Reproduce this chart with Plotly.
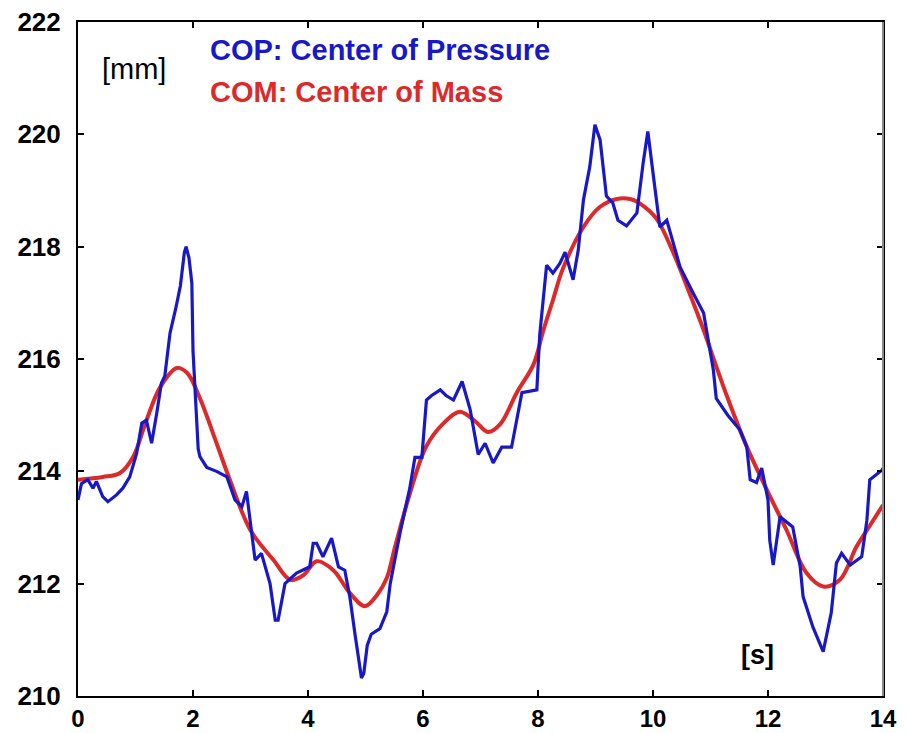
import plotly.graph_objects as go

# Center of Pressure (COP) trace: time [s] and position [mm]
cop_t = [0.0, 0.06, 0.17, 0.26, 0.32, 0.43, 0.52, 0.67, 0.78, 0.9, 1.02, 1.11, 1.19, 1.28,
         1.37, 1.45, 1.51, 1.6, 1.7, 1.78, 1.85, 1.88, 1.93, 1.98, 2.0, 2.06, 2.09, 2.12,
         2.24, 2.41, 2.59, 2.73, 2.85, 2.93, 3.02, 3.08, 3.19, 3.34, 3.43, 3.48, 3.6, 3.8,
         4.03, 4.09, 4.15, 4.26, 4.41, 4.53, 4.64, 4.73, 4.82, 4.93, 4.97, 5.03, 5.1, 5.25,
         5.37, 5.43, 5.6, 5.77, 5.86, 5.98, 6.06, 6.15, 6.3, 6.4, 6.53, 6.68, 6.82, 6.96,
         7.08, 7.22, 7.37, 7.54, 7.72, 7.98, 8.03, 8.09, 8.15, 8.26, 8.38, 8.47, 8.61, 8.7,
         8.79, 8.9, 8.99, 9.08, 9.19, 9.3, 9.39, 9.54, 9.72, 9.83, 9.91, 10.03, 10.12, 10.24,
         10.47, 10.7, 10.88, 11.05, 11.1, 11.3, 11.51, 11.63, 11.69, 11.8, 11.89, 12.0,
         12.03, 12.09, 12.21, 12.43, 12.56, 12.61, 12.78, 12.96, 13.1, 13.19, 13.28, 13.43,
         13.63, 13.72, 13.77, 13.98, 14.0]
cop_mm = [213.49, 213.78, 213.85, 213.7, 213.82, 213.55, 213.46, 213.58, 213.7, 213.9,
          214.32, 214.86, 214.91, 214.5, 215.04, 215.57, 215.7, 216.46, 216.9, 217.3,
          217.9, 218.0, 217.8, 217.35, 216.15, 215.0, 214.4, 214.26, 214.07, 214.0, 213.9,
          213.49, 213.37, 213.64, 212.96, 212.42, 212.54, 212.0, 211.35, 211.35, 212.0,
          212.19, 212.3, 212.72, 212.72, 212.48, 212.81, 212.3, 212.24, 211.75, 211.08,
          210.32, 210.4, 210.9, 211.1, 211.2, 211.5, 212.0, 212.9, 213.7, 214.25, 214.25,
          215.27, 215.35, 215.45, 215.35, 215.27, 215.6, 215.1, 214.3, 214.5, 214.15,
          214.43, 214.43, 215.4, 215.45, 216.43, 217.05, 217.67, 217.53, 217.7, 217.9,
          217.41, 217.94, 218.83, 219.42, 220.17, 219.9, 218.9, 218.78, 218.47, 218.37,
          218.6, 219.5, 220.05, 219.07, 218.35, 218.47, 217.64, 217.17, 216.82, 215.8,
          215.3, 215.0, 214.74, 214.44, 213.85, 213.8, 214.06, 213.49, 212.78, 212.33,
          213.19, 213.01, 212.3, 211.77, 211.23, 210.79, 211.48, 212.37, 212.54, 212.33,
          212.48, 213.13, 213.85, 214.02, 214.05]

# Center of Mass (COM) trace: time [s] and position [mm]
com_t = [0.0, 0.43, 0.73, 0.96, 1.19, 1.43, 1.72, 1.9, 2.12, 2.41, 2.64, 3.0, 3.4, 3.69,
         3.92, 4.15, 4.44, 4.73, 4.99, 5.2, 5.37, 5.5, 5.77, 6.06, 6.35, 6.64, 6.9, 7.13,
         7.35, 7.63, 7.92, 8.09, 8.26, 8.43, 8.79, 9.08, 9.37, 9.6, 9.8, 10.06, 10.35,
         10.59, 10.85, 11.1, 11.3, 11.63, 11.98, 12.32, 12.67, 12.96, 13.25, 13.54, 13.75,
         14.0]
com_mm = [213.85, 213.9, 213.97, 214.26, 214.91, 215.5, 215.84, 215.75, 215.3, 214.5,
          213.85, 212.95, 212.42, 212.07, 212.15, 212.4, 212.24, 211.83, 211.6, 211.8,
          212.1, 212.6, 213.6, 214.45, 214.85, 215.06, 214.9, 214.7, 214.85, 215.4, 215.9,
          216.5, 217.05, 217.6, 218.35, 218.71, 218.85, 218.85, 218.75, 218.5, 217.9,
          217.29, 216.6, 215.87, 215.3, 214.44, 213.67, 212.96, 212.19, 211.95, 212.07,
          212.66, 213.0, 213.4]

x_ticks = [0, 2, 4, 6, 8, 10, 12, 14]
y_ticks = [210, 212, 214, 216, 218, 220, 222]

BLUE = "#1818c8"
RED = "#dc2a2a"
FONT = "Liberation Sans, Arial, Helvetica, sans-serif"

fig = go.Figure()
fig.add_trace(go.Scatter(x=com_t, y=com_mm, mode="lines",
                         line=dict(color=RED, width=4, shape="spline", smoothing=1.0),
                         name="COM"))
fig.add_trace(go.Scatter(x=cop_t, y=cop_mm, mode="lines",
                         line=dict(color=BLUE, width=3.2),
                         name="COP"))

axis_common = dict(
    showgrid=False, zeroline=False, automargin=False,
    showline=True, linecolor="black", linewidth=2, mirror="ticks",
    ticks="inside", ticklen=6, tickwidth=1.5, tickcolor="black",
)

fig.update_xaxes(range=[0, 14], tickvals=x_ticks, ticktext=[str(v) for v in x_ticks],
                 ticklabelstandoff=0,
                 tickfont=dict(family=FONT, size=24, color="black", weight="bold"),
                 **axis_common)
fig.update_yaxes(range=[210, 222], tickvals=y_ticks, ticktext=[str(v) for v in y_ticks],
                 ticklabelstandoff=10,
                 tickfont=dict(family=FONT, size=26, color="black", weight="bold"),
                 **axis_common)

# Right frame edge is lighter grey
fig.add_shape(type="line", xref="paper", yref="paper", x0=1, x1=1, y0=0, y1=1,
              line=dict(color="#8a8a8a", width=2), layer="above")

fig.add_annotation(xref="paper", yref="paper", x=(208 - 78) / 805, y=1 - (50 - 22) / 674,
                   text="COP: Center of Pressure", showarrow=False, xanchor="left",
                   yanchor="middle",
                   font=dict(family=FONT, size=29, color=BLUE, weight="bold"))
fig.add_annotation(xref="paper", yref="paper", x=(208 - 78) / 805, y=1 - (92 - 22) / 674,
                   text="COM: Center of Mass", showarrow=False, xanchor="left",
                   yanchor="middle",
                   font=dict(family=FONT, size=29, color=RED, weight="bold"))
fig.add_annotation(xref="paper", yref="paper", x=(100 - 78) / 805, y=1 - (69 - 22) / 674,
                   text="[mm]", showarrow=False, xanchor="left", yanchor="middle",
                   font=dict(family=FONT, size=29, color="black"))
fig.add_annotation(xref="paper", yref="paper", x=(757 - 78) / 805, y=1 - (655 - 22) / 674,
                   text="[s]", showarrow=False, xanchor="center", yanchor="middle",
                   font=dict(family=FONT, size=27, color="black", weight="bold"))

fig.update_layout(
    width=908, height=733,
    margin=dict(l=78, r=25, t=22, b=37),
    plot_bgcolor="white", paper_bgcolor="white",
    showlegend=False,
)

fig.write_html("out.html")
